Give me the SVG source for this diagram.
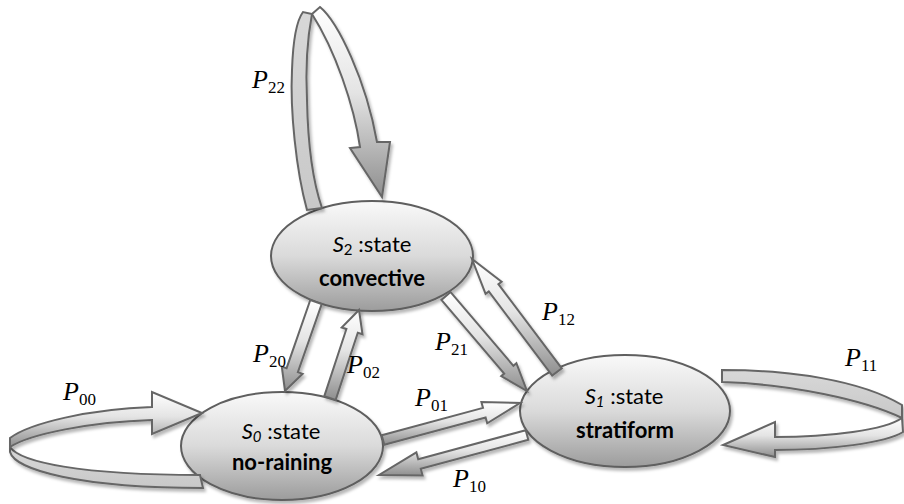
<svg xmlns="http://www.w3.org/2000/svg" width="904" height="504" viewBox="0 0 904 504">
<defs>
<linearGradient id="gEll" x1="0" y1="0" x2="0" y2="1">
<stop offset="0" stop-color="#f9f9f9"/>
<stop offset="0.5" stop-color="#dadada"/>
<stop offset="1" stop-color="#9c9c9c"/>
</linearGradient>
<linearGradient id="gArr" x1="0" y1="0" x2="0" y2="1">
<stop offset="0" stop-color="#ffffff"/>
<stop offset="0.45" stop-color="#e4e4e4"/>
<stop offset="1" stop-color="#8e8e8e"/>
</linearGradient>
<linearGradient id="gBack" x1="0" y1="0" x2="0" y2="1">
<stop offset="0" stop-color="#d8d8d8"/>
<stop offset="1" stop-color="#c8c8c8"/>
</linearGradient>
<filter id="sh" x="-20%" y="-20%" width="150%" height="150%">
<feGaussianBlur in="SourceAlpha" stdDeviation="1.5"/>
<feOffset dx="2" dy="3" result="o"/>
<feFlood flood-color="#000" flood-opacity="0.28"/>
<feComposite in2="o" operator="in"/>
<feMerge><feMergeNode/><feMergeNode in="SourceGraphic"/></feMerge>
</filter>
</defs>
<style>
.node ellipse{fill:url(#gEll);stroke:#5e5e5e;stroke-width:2;filter:url(#sh)}
.nt{font-family:Lato,"Liberation Sans",sans-serif;font-size:22px;fill:#000;text-anchor:middle}
.nb{font-weight:bold}
.arr{fill:url(#gArr);stroke:#666;stroke-width:2;stroke-linejoin:miter;filter:url(#sh)}
.back{fill:url(#gBack);stroke:#666;stroke-width:2;filter:url(#sh)}
.lbl{font-family:"Liberation Serif",serif;font-size:26px;fill:#000}
.it{font-style:italic}
.sub{font-size:17px}
</style>

<g id="node-s2" class="node">
<ellipse cx="372" cy="256" rx="101" ry="55"/>
<text class="nt" x="372" y="252"><tspan font-style="italic">S</tspan><tspan font-size="15" dy="3">2</tspan><tspan dy="-3"> :state</tspan></text>
<text class="nt nb" x="372" y="286">convective</text>
</g>

<g id="node-s0" class="node">
<ellipse cx="282" cy="446" rx="101" ry="54"/>
<text class="nt" x="281" y="439"><tspan font-style="italic">S</tspan><tspan font-size="15" font-style="italic" dy="3">0</tspan><tspan dy="-3"> :state</tspan></text>
<text class="nt nb" x="282" y="470">no-raining</text>
</g>

<g id="node-s1" class="node">
<ellipse cx="625" cy="411" rx="105" ry="56"/>
<text class="nt" x="624" y="404"><tspan font-style="italic">S</tspan><tspan font-size="15" font-style="italic" dy="3">1</tspan><tspan dy="-3"> :state</tspan></text>
<text class="nt nb" x="625" y="438">stratiform</text>
</g>

<g id="connectors">
<g id="c-p22">
<path class="back" d="M307,210 C296,170 290,110 292,70 C293,40 297,20 303,12 L312,14 C308,35 305,60 307,100 C308,150 314,185 322,208 Z"/>
<path class="arr" d="M312,14 L320,7 C338,22 366,80 377,142 L390,142 L382,197 L350,148 L360,147 C354,105 335,50 312,14 Z"/>
<text class="lbl" x="252" y="88"><tspan class="it">P</tspan><tspan class="sub" dy="5">22</tspan></text>
</g>
<g id="c-p00">
<path class="back" d="M10,447 C20,462 80,475 200,475 L203,488 C80,488 15,470 10,452 Z"/>
<path class="arr" d="M10,438 C30,423 90,409 152,407 L152,392 L202,413 L152,434 L152,420 C90,422 30,434 10,447 Z"/>
<text class="lbl" x="63" y="400"><tspan class="it">P</tspan><tspan class="sub" dy="5">00</tspan></text>
</g>
<g id="c-p11">
<path class="back" d="M722,370 C790,370 860,380 902,405 L902,418 C865,400 790,384 722,382 Z"/>
<path class="arr" d="M902,418 C885,430 830,437 775,437 L775,422 L723,445 L775,457 L775,450 C830,450 885,443 903,432 Z"/>
<text class="lbl" x="845" y="366"><tspan class="it">P</tspan><tspan class="sub" dy="5">11</tspan></text>
</g>
<g id="c-p20">
<path class="arr" d="M310.3,300 L286.6,368.2 L281.8,366.6 L285,391 L302.6,373.8 L297.9,372.2 L321.7,304 Z"/>
<text class="lbl" x="253" y="362"><tspan class="it">P</tspan><tspan class="sub" dy="5">20</tspan></text>
</g>
<g id="c-p02">
<path class="arr" d="M335.7,399.9 L357.8,332.8 L362.5,334.3 L359,310 L341.7,327.5 L346.4,329 L324.3,396.1 Z"/>
<text class="lbl" x="347" y="373"><tspan class="it">P</tspan><tspan class="sub" dy="5">02</tspan></text>
</g>
<g id="c-p21">
<path class="arr" d="M441.4,299.9 L504.2,373.6 L501.2,376.2 L527,391 L516.4,363.2 L513.4,365.8 L450.6,292.1 Z"/>
<text class="lbl" x="435" y="350"><tspan class="it">P</tspan><tspan class="sub" dy="5">21</tspan></text>
</g>
<g id="c-p12">
<path class="arr" d="M561.8,368.4 L498.4,284.2 L501.6,281.8 L472,259 L485.6,293.8 L488.8,291.4 L552.2,375.6 Z"/>
<text class="lbl" x="542" y="320"><tspan class="it">P</tspan><tspan class="sub" dy="5">12</tspan></text>
</g>
<g id="c-p01">
<path class="arr" d="M384.3,444.8 L485.6,417.5 L487.2,423.3 L520,403 L481.4,402.1 L483,407.9 L381.7,435.2 Z"/>
<text class="lbl" x="415" y="406"><tspan class="it">P</tspan><tspan class="sub" dy="5">01</tspan></text>
</g>
<g id="c-p10">
<path class="arr" d="M525.7,430.2 L418.2,459.2 L416.4,452.4 L379,475 L422.6,475.6 L420.8,468.8 L528.3,439.8 Z"/>
<text class="lbl" x="453" y="487"><tspan class="it">P</tspan><tspan class="sub" dy="5">10</tspan></text>
</g>
</g>
</svg>
